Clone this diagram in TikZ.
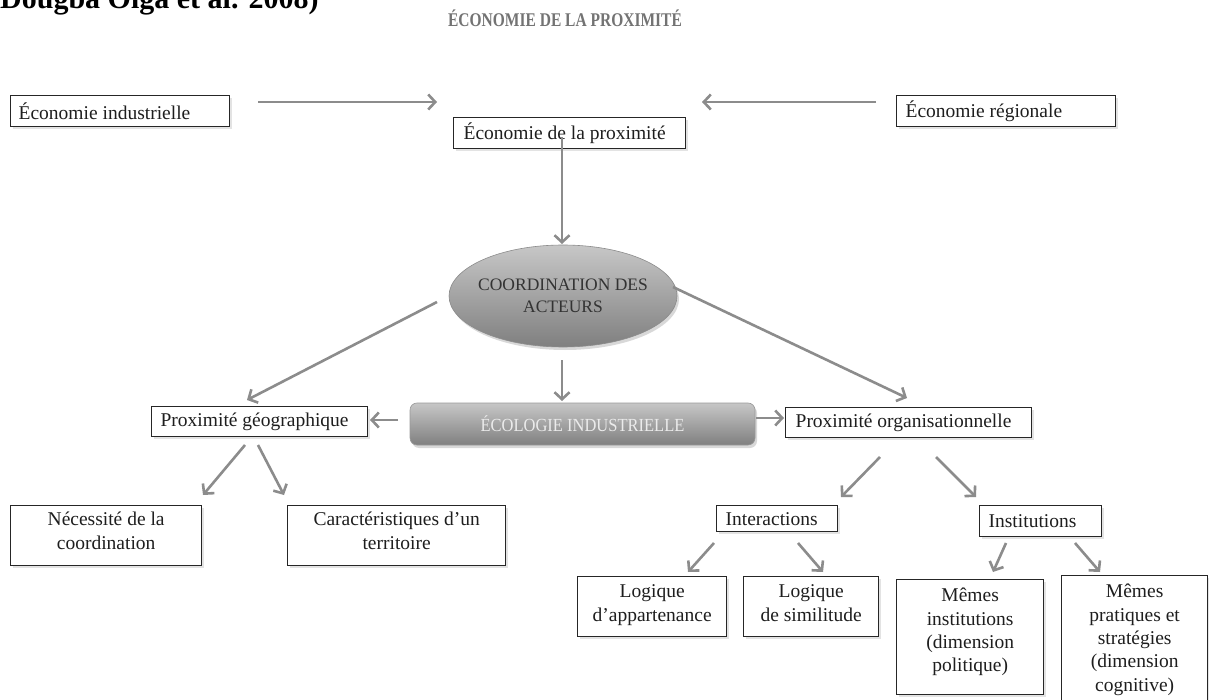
\documentclass[tikz,border=0pt]{standalone}
\usepackage{fontspec}
\setmainfont{Liberation Serif}
\usetikzlibrary{shapes.geometric,arrows.meta,shadows}
\newcommand\boxtxt[4]{\parbox[c][#2][t]{#1}{\centering\rule{0pt}{#3}#4\par}}
\definecolor{arrgray}{HTML}{8C8C8C}
\definecolor{txtgray}{HTML}{1E1E1E}
\begin{document}
\begin{tikzpicture}[x=1pt,y=-1pt,
  box/.style={draw=black!85,line width=1.3pt,fill=white,inner sep=0pt,
    font=\fontsize{19.5}{23.4}\selectfont,text=txtgray,
    drop shadow={opacity=0.22,shadow xshift=2pt,shadow yshift=-2pt}},
  lbox/.style={box,anchor=north west,align=flush left},
  cbox/.style={box,anchor=north west},
  arr/.style={draw=arrgray,line width=2.6pt,
    -{Straight Barb[length=7pt,width=15pt]}}
]
\useasboundingbox (0,0) rectangle (1209,700);
\fill[white] (0,0) rectangle (1209,700);

% partial heading at top left and title
\node[anchor=base west,inner sep=0pt,font=\fontsize{30}{34}\selectfont\bfseries] (src) at (0,9) {Dougba Olga et al. 2008)};
\node[inner sep=0pt,font=\fontsize{15.5}{18}\selectfont\bfseries,text=black!55] (title) at (565,18) {\scalebox{1}[1.25]{ÉCONOMIE DE LA PROXIMITÉ}};

% top row
\node[lbox,minimum height=31pt,inner xsep=8pt,text width=203pt] (eind) at (10,95) {Économie industrielle};
\node[lbox,minimum height=31pt,inner xsep=9pt,text width=201pt] (ereg) at (896,95) {Économie régionale};
\node[lbox,minimum height=31pt,inner xsep=10pt,text width=212pt] (eprox) at (453,117) {Économie de la proximité};

% ellipse
\node[ellipse,minimum width=228pt,minimum height=102pt,inner sep=0pt,draw=black!45,line width=0.6pt,
  top color=black!22,bottom color=black!50,align=flush center,
  font=\fontsize{17.5}{22}\selectfont,text=black!80,
  drop shadow={opacity=0.3,shadow xshift=2pt,shadow yshift=-3pt}] (coord) at (563,296)
  {\makebox[130pt]{COORDINATION DES}\\ACTEURS};

% ecologie industrielle
\node[rectangle,rounded corners=7pt,minimum width=345pt,minimum height=42pt,draw=black!40,line width=0.6pt,
  top color=black!22,bottom color=black!50,
  font=\fontsize{16.5}{20}\selectfont,text=black!8,
  drop shadow={opacity=0.3,shadow xshift=2pt,shadow yshift=-3pt}] (eco) at (582.5,424) {\scalebox{1}[1.12]{ÉCOLOGIE INDUSTRIELLE}};

% proximity boxes
\node[lbox,minimum height=30pt,inner xsep=9pt,text width=198pt] (pgeo) at (151,406) {Proximité géographique};
\node[lbox,minimum height=30pt,inner xsep=10pt,text width=226pt] (porg) at (785,407) {Proximité organisationnelle};

% level 3 left
\node[cbox] (nec) at (10,505) {\boxtxt{191pt}{60pt}{20pt}{Nécessité de la\\coordination}};
\node[cbox] (car) at (287,505) {\boxtxt{218pt}{60pt}{20pt}{Caractéristiques d'un\\territoire}};

% level 3 right
\node[lbox,minimum height=26pt,inner xsep=9pt,text width=103pt] (inter) at (716,505) {Interactions};
\node[lbox,minimum height=31pt,inner xsep=9pt,text width=104pt] (inst) at (979,505) {Institutions};

% level 4
\node[cbox] (lapp) at (577,576) {\boxtxt{149pt}{60pt}{21pt}{Logique\\d'appartenance}};
\node[cbox] (lsim) at (743,576) {\boxtxt{135pt}{60pt}{21pt}{Logique\\de similitude}};
\node[cbox] (minst) at (896,579) {\boxtxt{147pt}{115pt}{22pt}{Mêmes\\institutions\\(dimension\\politique)}};
\node[cbox] (mprat) at (1061,575) {\boxtxt{146pt}{140pt}{22pt}{Mêmes\\pratiques et\\stratégies\\(dimension\\cognitive)}};

% connector end points
\coordinate (a1s) at (258,102); \coordinate (a1e) at (437,102);
\coordinate (a2s) at (876,102); \coordinate (a2e) at (702,102);
\coordinate (a3s) at (562,137); \coordinate (a3e) at (562,244);
\coordinate (a4s) at (437,302); \coordinate (a4e) at (247,400);
\coordinate (a5s) at (673,287); \coordinate (a5e) at (907,398);
\coordinate (a6s) at (562,360); \coordinate (a6e) at (562,401);
\coordinate (a7s) at (398,420); \coordinate (a7e) at (370,420);
\coordinate (a8s) at (756,418); \coordinate (a8e) at (784,418);
\coordinate (a9s) at (245,445); \coordinate (a9e) at (203,495);
\coordinate (a10s) at (258,445); \coordinate (a10e) at (284,495);
\coordinate (a11s) at (880,457); \coordinate (a11e) at (841,497);
\coordinate (a12s) at (936,457); \coordinate (a12e) at (976,497);
\coordinate (a13s) at (714,543); \coordinate (a13e) at (688,572);
\coordinate (a14s) at (798,543); \coordinate (a14e) at (823,572);
\coordinate (a15s) at (1006,543); \coordinate (a15e) at (993,572);
\coordinate (a16s) at (1075,543); \coordinate (a16e) at (1100,572);

\draw[arr] (a1s) -- (a1e);
\draw[arr] (a2s) -- (a2e);
\draw[arr] (a3s) -- (a3e);
\draw[arr] (a4s) -- (a4e);
\draw[arr] (a5s) -- (a5e);
\draw[arr] (a6s) -- (a6e);
\draw[arr] (a7s) -- (a7e);
\draw[arr] (a8s) -- (a8e);
\draw[arr] (a9s) -- (a9e);
\draw[arr] (a10s) -- (a10e);
\draw[arr] (a11s) -- (a11e);
\draw[arr] (a12s) -- (a12e);
\draw[arr] (a13s) -- (a13e);
\draw[arr] (a14s) -- (a14e);
\draw[arr] (a15s) -- (a15e);
\draw[arr] (a16s) -- (a16e);
\end{tikzpicture}
\end{document}
